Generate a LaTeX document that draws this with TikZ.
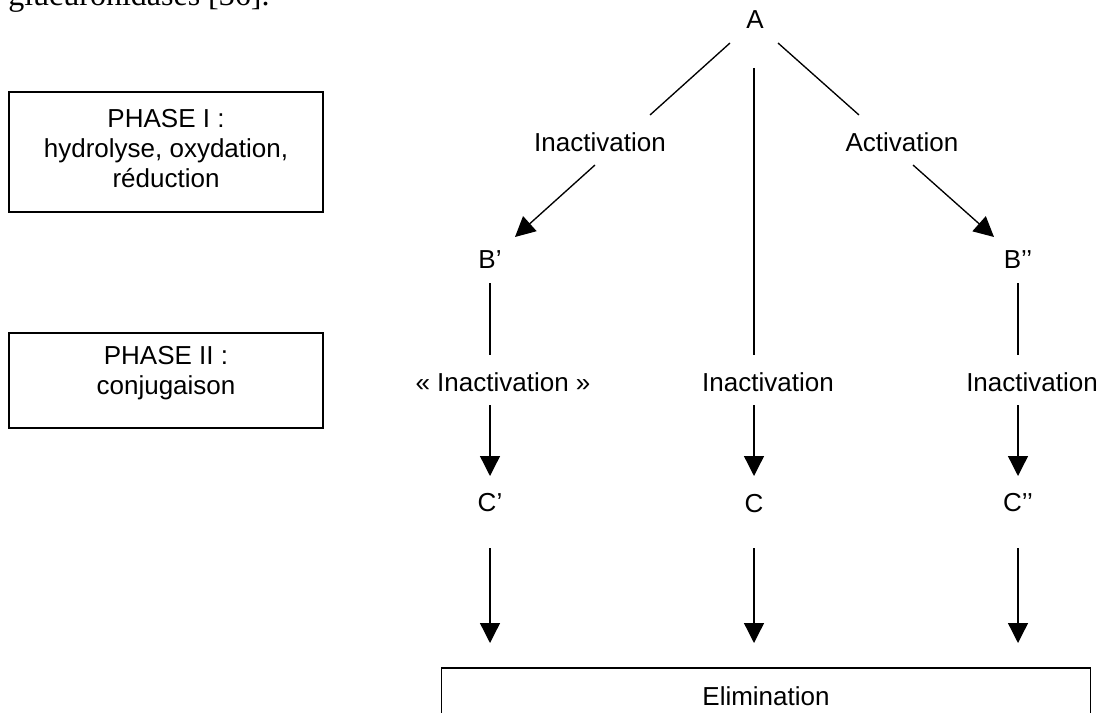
\documentclass[tikz,border=0pt]{standalone}
\usepackage{fontspec}
\setmainfont{Liberation Sans}
\newfontfamily\timesf{Liberation Serif}
\usetikzlibrary{arrows.meta}
\begin{document}
\begin{tikzpicture}[x=0.75pt,y=-0.75pt,
  lab/.style={font=\fontsize{19.5}{22.5}\selectfont, inner sep=0pt, align=center},
  ln/.style={line width=1pt},
  arr/.style={line width=1pt, -{Triangle[length=15pt,width=15pt]}},
  bx/.style={draw, line width=1pt, inner sep=0pt}]
\useasboundingbox (0,0) rectangle (1103,713);
\clip (0,0) rectangle (1103,713);
% clipped running text above
\node[anchor=base west, font=\timesf\fontsize{24}{28}\selectfont, inner sep=0pt] (toptext) at (8,6) {glucuronidases [36].};
% phase boxes
\node[bx, minimum width=235.5pt, minimum height=90pt] (p1box) at (166,152) {};
\node[lab] (p1) at (166,148.5) {PHASE I :\\hydrolyse, oxydation,\\réduction};
\node[bx, minimum width=235.5pt, minimum height=71.25pt] (p2box) at (166,380.5) {};
\node[lab] (p2) at (166,373) {PHASE II :\\conjugaison};
% elimination box (cut at the bottom)
\node[bx, minimum width=486.75pt, minimum height=60pt] (elimbox) at (766,708) {};
\node[lab] (elim) at (766,696) {Elimination};
% nodes
\node[lab] (A) at (755,20) {A};
\node[lab] (inact1) at (600,142) {Inactivation};
\node[lab] (act) at (902,142) {Activation};
\node[lab] (B1) at (490,260) {B’};
\node[lab] (B2) at (1018,260) {B’’};
\node[lab] (inactL) at (503,382) {« Inactivation »};
\node[lab] (inactM) at (768,382) {Inactivation};
\node[lab] (inactR) at (1032,382) {Inactivation};
\node[lab] (C1) at (490,503) {C’};
\node[lab] (C0) at (754,504) {C};
\node[lab] (C2) at (1018,503) {C’’};
% connector end points
\coordinate (aL1) at (730,43);  \coordinate (aL2) at (650,115);
\coordinate (aR1) at (778,43);  \coordinate (aR2) at (859,115);
\coordinate (aM1) at (754,68);  \coordinate (aM2) at (754,355);
\coordinate (dL1) at (595,165); \coordinate (dL2) at (515,237);
\coordinate (dR1) at (913,165); \coordinate (dR2) at (994,237);
\coordinate (bL1) at (490,283); \coordinate (bL2) at (490,355);
\coordinate (bR1) at (1018,283); \coordinate (bR2) at (1018,355);
\coordinate (mL1) at (490,405); \coordinate (mL2) at (490,476);
\coordinate (mM1) at (754,405); \coordinate (mM2) at (754,476);
\coordinate (mR1) at (1018,405); \coordinate (mR2) at (1018,476);
\coordinate (eL1) at (490,548); \coordinate (eL2) at (490,643);
\coordinate (eM1) at (754,548); \coordinate (eM2) at (754,643);
\coordinate (eR1) at (1018,548); \coordinate (eR2) at (1018,643);
% connectors
\draw[ln] (aL1) -- (aL2);
\draw[ln] (aR1) -- (aR2);
\draw[ln] (aM1) -- (aM2);
\draw[arr] (dL1) -- (dL2);
\draw[arr] (dR1) -- (dR2);
\draw[ln] (bL1) -- (bL2);
\draw[ln] (bR1) -- (bR2);
\draw[arr] (mL1) -- (mL2);
\draw[arr] (mM1) -- (mM2);
\draw[arr] (mR1) -- (mR2);
\draw[arr] (eL1) -- (eL2);
\draw[arr] (eM1) -- (eM2);
\draw[arr] (eR1) -- (eR2);
\end{tikzpicture}
\end{document}
